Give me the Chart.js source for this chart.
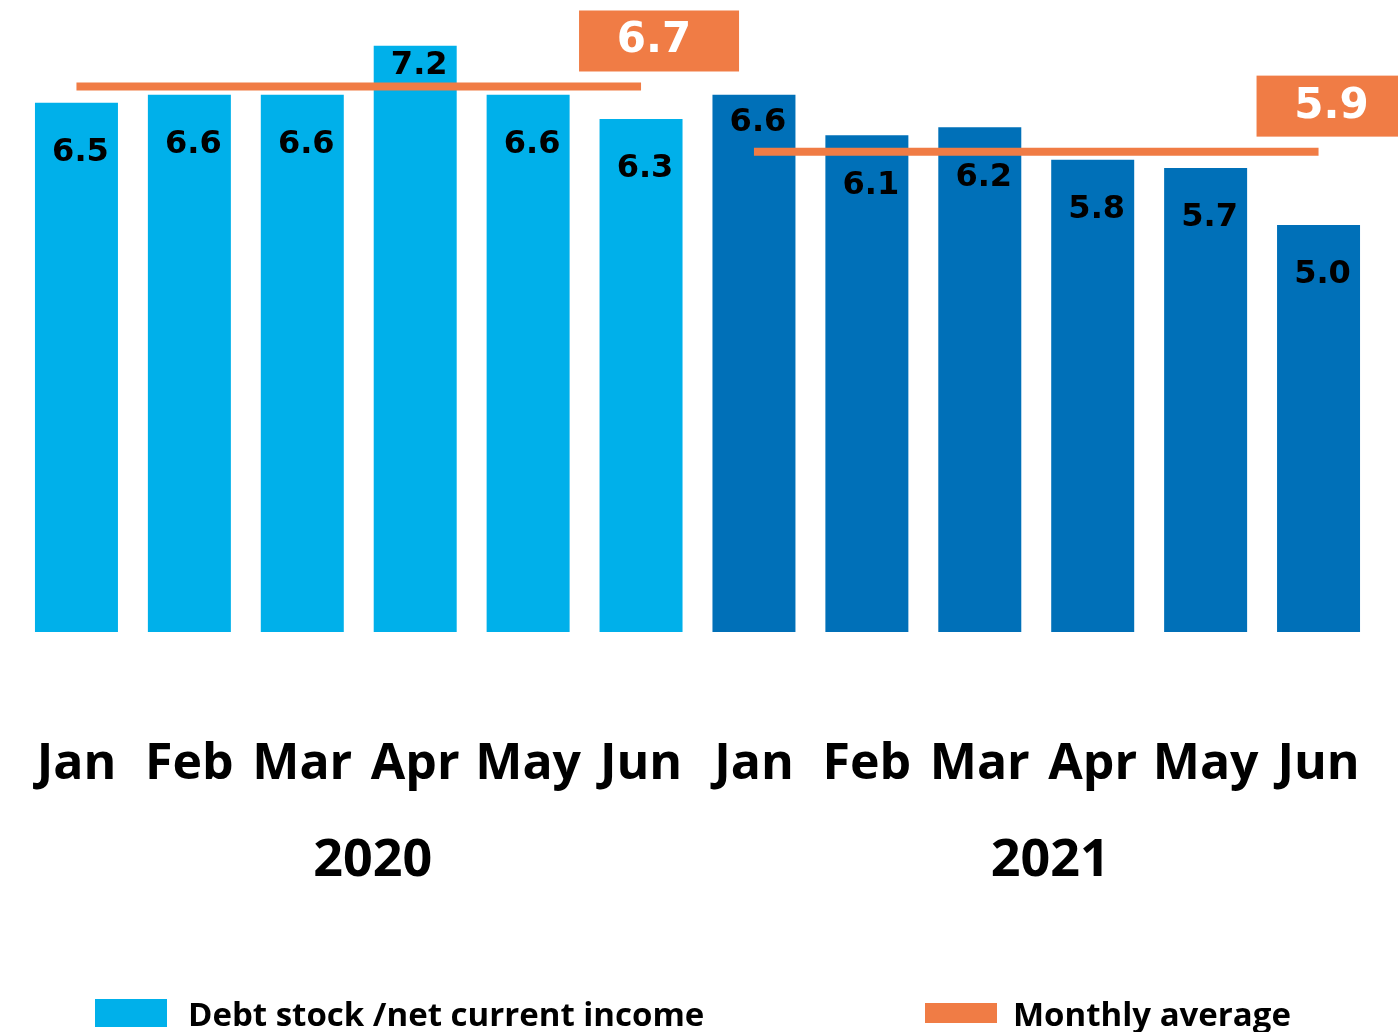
<!DOCTYPE html>
<html>
<head>
<meta charset="utf-8">
<script src="https://cdn.jsdelivr.net/npm/chart.js@4.4.1/dist/chart.umd.min.js"></script>
<style>
    html, body { margin: 0; padding: 0; background: #ffffff; }
    #wrap { width: 1398px; height: 1032px; position: relative; }
</style>
</head>
<body>
<div id="wrap"><canvas id="debtChart"></canvas></div>
<script>
// Chart data
const months = ['Jan', 'Feb', 'Mar', 'Apr', 'May', 'Jun', 'Jan', 'Feb', 'Mar', 'Apr', 'May', 'Jun'];
const years = ['2020', '2021'];
const debtRatio = [6.5, 6.6, 6.6, 7.2, 6.6, 6.3, 6.6, 6.1, 6.2, 5.8, 5.7, 5.0];
const monthlyAverage = [6.7, 5.9];

const LIGHT_BLUE = '#00B0EA';
const DARK_BLUE = '#0070B8';
const ORANGE = '#F07C45';
const GROUP = 6;

document.addEventListener('DOMContentLoaded', function() {
    initDebtChart();
});

function initDebtChart() {
    const ctx = document.getElementById('debtChart').getContext('2d');

    // one colour per year group
    const barColors = debtRatio.map((v, i) => i < GROUP ? LIGHT_BLUE : DARK_BLUE);
    // average line, one flat segment per year
    const avgLine = months.map((m, i) => monthlyAverage[Math.floor(i / GROUP)]);

    const extras = {
        id: 'extras',
        afterDatasetsDraw(chart) {
            const c = chart.ctx;
            const bars = chart.getDatasetMeta(1).data;
            const pts = chart.getDatasetMeta(0).data;
            const xScale = chart.scales.x;
            c.save();

            // value labels inside the bars, kept clear of the average line
            c.fillStyle = '#000000';
            c.font = 'bold 32px "DejaVu Sans"';
            c.textAlign = 'center';
            c.textBaseline = 'middle';
            bars.forEach((bar, i) => {
                const lineY = pts[i].y;
                let y = bar.y + 50;
                if (Math.abs(y - lineY) < 30 && lineY - bar.y > 35) {
                    y = (bar.y + lineY) / 2;
                }
                c.fillText(debtRatio[i].toFixed(1), bar.x + 4, y);
            });

            // average value boxes
            monthlyAverage.forEach((avg, g) => {
                const p = pts[g * GROUP + GROUP - 1];
                const cx = p.x + 18, cy = p.y - 46;
                c.fillStyle = ORANGE;
                c.fillRect(cx - 80, cy - 30, 160, 61);
                c.fillStyle = '#ffffff';
                c.font = 'bold 42px "DejaVu Sans"';
                c.fillText(avg.toFixed(1), cx - 5, cy + 1);
            });

            // year labels under the months
            c.fillStyle = '#000000';
            c.font = 'bold 52px "Open Sans"';
            years.forEach((yr, g) => {
                const x0 = xScale.getPixelForValue(g * GROUP);
                const x1 = xScale.getPixelForValue(g * GROUP + GROUP - 1);
                c.fillText(yr, (x0 + x1) / 2 + 14, 861);
            });

            // legend
            c.textAlign = 'left';
            c.font = 'bold 33px "Open Sans"';
            c.fillStyle = LIGHT_BLUE;
            c.fillRect(95, 999, 72, 28);
            c.fillStyle = '#000000';
            c.fillText('Debt stock /net current income', 188, 1017);
            c.fillStyle = ORANGE;
            c.fillRect(925, 1003, 72, 20);
            c.fillStyle = '#000000';
            c.fillText('Monthly average', 1013, 1017);
            c.restore();
        }
    };

    new Chart(ctx, {
        data: {
            labels: months,
            datasets: [{
                type: 'line',
                label: 'Monthly average',
                data: avgLine,
                borderColor: ORANGE,
                borderWidth: 8,
                pointRadius: 0,
                order: 0,
                segment: {
                    borderColor: s => (s.p0DataIndex < GROUP && s.p1DataIndex >= GROUP) ? 'transparent' : ORANGE
                }
            }, {
                type: 'bar',
                label: 'Debt stock /net current income',
                data: debtRatio,
                backgroundColor: barColors,
                barPercentage: 0.735,
                categoryPercentage: 1,
                order: 1
            }]
        },
        options: {
            responsive: true,
            maintainAspectRatio: false,
            animation: false,
            layout: { padding: { top: 1, left: 20, right: 23, bottom: 134 } },
            plugins: {
                legend: { display: false },
                tooltip: { enabled: false }
            },
            scales: {
                x: {
                    grid: { display: false, drawTicks: false },
                    border: { display: false },
                    ticks: {
                        color: '#000000',
                        padding: 0,
                        maxRotation: 0,
                        autoSkip: false,
                        // tall line box pushes the month names well below the bars
                        font: { family: 'Open Sans', size: 50, weight: 'bold', lineHeight: '266px' }
                    }
                },
                y: {
                    display: false,
                    min: 0,
                    max: 7.75
                }
            }
        },
        plugins: [extras]
    });
}
</script>
</body>
</html>
